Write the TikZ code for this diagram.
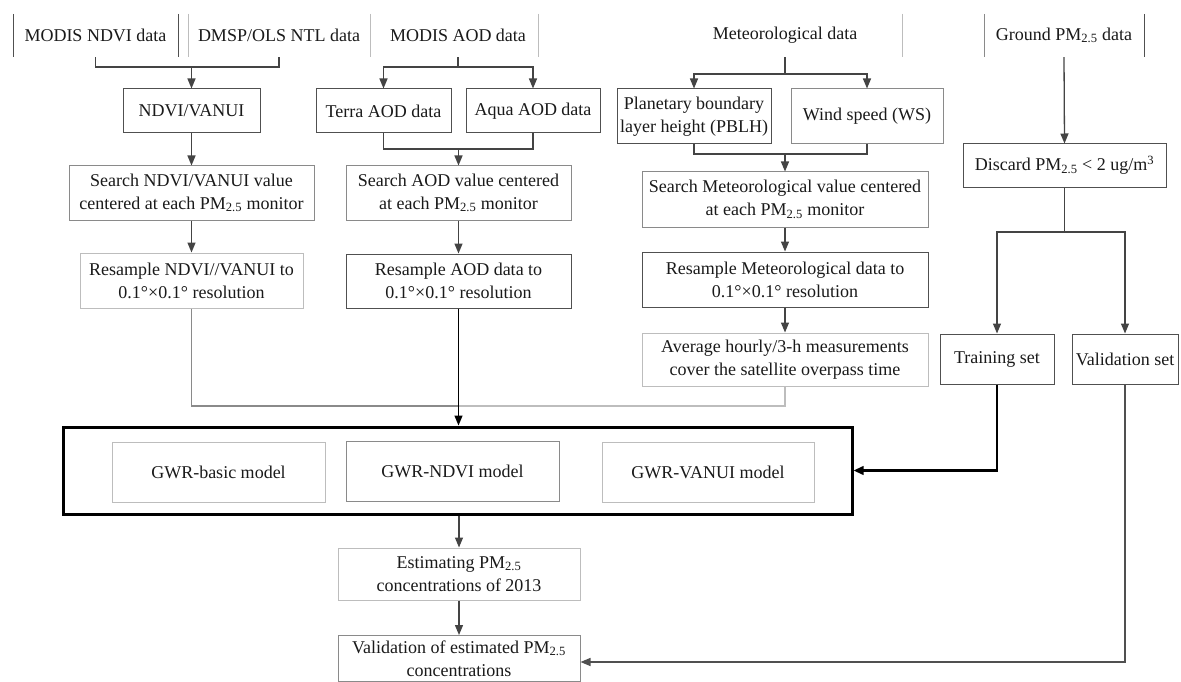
\documentclass[tikz,border=0pt]{standalone}
\usepackage{fontspec}
\setmainfont{Liberation Serif}
\usetikzlibrary{arrows.meta}
\definecolor{lnk}{HTML}{444444}
\definecolor{bdark}{HTML}{505050}
\definecolor{bmid}{HTML}{8A8A8A}
\definecolor{blight}{HTML}{BDBDBD}
\definecolor{txt}{HTML}{1A1A1A}
\tikzset{
  base/.style={inner sep=0pt, align=center, text=txt,
    font=\fontsize{18}{23}\selectfont},
  lbl/.style={base},
  boxd/.style={base, draw=bdark, line width=1pt},
  boxm/.style={base, draw=bmid, line width=1pt},
  boxl/.style={base, draw=blight, line width=1pt},
  thickbox/.style={draw=black, line width=3pt, inner sep=0pt},
  lnkline/.style={draw=lnk, line width=1.3pt},
  arr/.style={lnkline, -{Triangle[length=10pt,width=8pt]}},
  sep/.style={line width=1pt},
  wh/.style 2 args={minimum width=#1pt, minimum height=#2pt},
}
\begin{document}
\begin{tikzpicture}[x=1pt,y=-1pt]
\useasboundingbox[fill=white] (0,0) rectangle (1181,682);

% top row labels
\node[lbl, wh={165}{43}] (t1) at (95.5,35.5) {MODIS NDVI data};
\node[lbl, wh={182}{43}] (t2) at (279,35.5) {DMSP/OLS NTL data};
\node[lbl, wh={160}{43}] (t3) at (458,35.5) {MODIS AOD data};
\node[lbl, wh={200}{43}] (t4) at (785,35.5) {Meteorological data};
\node[lbl, wh={160}{43}] (t5) at (1064,35.5) {Ground PM\textsubscript{2.5} data};

% separators
\draw[sep, bdark] (13,14) -- (13,57);
\draw[sep, bdark] (178,14) -- (178,57);
\draw[sep, blight] (188,14) -- (188,57);
\draw[sep, blight] (370,14) -- (370,57);
\draw[sep, blight] (538,14) -- (538,57);
\draw[sep, blight] (902,14) -- (902,57);
\draw[sep, bmid] (984,14) -- (984,57);
\draw[sep, bdark] (1144,14) -- (1144,57);

% second row
\node[boxd, wh={137}{44}] (ndvi) at (191.5,111) {NDVI/VANUI};
\node[boxd, wh={135}{44}] (terra) at (383.5,111) {Terra AOD data};
\node[boxd, wh={134}{44}] (aqua) at (533,111) {Aqua AOD data};
\node[boxd, wh={154}{55}] (pblh) at (694,116.5) {Planetary boundary\\layer height (PBLH)};
\node[boxm, wh={152}{55}] (ws) at (867,116.5) {Wind speed (WS)};
\node[boxd, wh={203}{43}] (discard) at (1064.5,165.5) {Discard PM\textsubscript{2.5} {<} 2 ug/m\textsuperscript{3}};

% search / resample
\node[boxm, wh={245}{54}] (sndvi) at (191.5,193) {Search NDVI/VANUI value\\centered at each PM\textsubscript{2.5} monitor};
\node[boxl, wh={223}{55}] (rndvi) at (191.5,280.5) {Resample NDVI//VANUI to\\0.1°×0.1° resolution};
\node[boxm, wh={225}{54}] (saod) at (458.5,193) {Search AOD value centered\\at each PM\textsubscript{2.5} monitor};
\node[boxd, wh={225}{54}] (raod) at (458.5,281) {Resample AOD data to\\0.1°×0.1° resolution};
\node[boxm, wh={286}{55}] (smet) at (785,199.5) {Search Meteorological value centered\\at each PM\textsubscript{2.5} monitor};
\node[boxd, wh={286}{55}] (rmet) at (785,279.5) {Resample Meteorological data to\\0.1°×0.1° resolution};
\node[boxl, wh={286}{53}] (avg) at (785,359.5) {Average hourly/3-h measurements\\cover the satellite overpass time};
\node[boxd, wh={114}{50}] (train) at (997,359) {Training set};
\node[boxd, wh={106}{50}] (valset) at (1125,359) {Validation set};

% models
\node[thickbox, wh={789}{87}] (thick) at (457.5,470.5) {};
\node[boxl, wh={213}{60}] (gb) at (218.5,472) {GWR-basic model};
\node[boxm, wh={213}{60}] (gn) at (452.5,471) {GWR-NDVI model};
\node[boxl, wh={212}{60}] (gv) at (708,472) {GWR-VANUI model};

% outputs
\node[boxl, wh={242}{52}] (est) at (459,574) {Estimating PM\textsubscript{2.5}\\concentrations of 2013};
\node[boxm, wh={242}{46}] (vest) at (459,658.5) {Validation of estimated PM\textsubscript{2.5}\\concentrations};

% junctions
\coordinate (j1) at (191.5,67);
\coordinate (j2) at (458,67);
\coordinate (j3) at (458.5,149);
\coordinate (j4) at (785,74);
\coordinate (j5) at (785,154);
\coordinate (j6) at (1064.5,232);
\coordinate (j7) at (191.5,406);
\coordinate (j8) at (785,406);

% connectors
\draw[lnkline] (t1.south) |- (j1) -| (t2.south);
\draw[arr] (j1) -- (ndvi.north);
\draw[lnkline] (t3.south) -- (j2);
\draw[arr] (j2) -| (terra.north);
\draw[arr] (j2) -| (aqua.north);
\draw[lnkline] (terra.south) |- (j3) -| (aqua.south);
\draw[arr] (j3) -- (saod.north);
\draw[lnkline] (t4.south) -- (j4);
\draw[arr] (j4) -| (pblh.north);
\draw[arr] (j4) -| (ws.north);
\draw[lnkline] (pblh.south) |- (j5) -| (ws.south);
\draw[arr] (j5) -- (smet.north);
\draw[arr] (t5.south) -- (discard.north);

\draw[arr] (ndvi.south) -- (sndvi.north);
\draw[arr] (sndvi.south) -- (rndvi.north);
\draw[arr] (saod.south) -- (raod.north);
\draw[arr] (smet.south) -- (rmet.north);
\draw[arr] (rmet.south) -- (avg.north);

\draw[lnkline] (discard.south) -- (j6);
\draw[arr] (j6) -| (train.north);
\draw[arr] (j6) -| (valset.north);

\draw[draw=bmid, line width=1.2pt] (rndvi.south) -- (j7) -- (raod.south |- j7);
\draw[draw=blight, line width=1.2pt] (raod.south |- j7) -- (j8) -- (avg.south);
\draw[draw=black, line width=1.3pt, -{Triangle[length=10pt,width=8pt]}] (raod.south) -- (raod.south |- thick.north);

\draw[draw=black, line width=2.2pt, -{Triangle[length=10pt,width=8.5pt]}] (train.south) |- (thick.east);
\draw[draw=bdark, line width=1.3pt, -{Triangle[length=10pt,width=8pt]}] (valset.south) |- ([yshift=-3.5pt]vest.east);

\draw[arr] (thick.south -| est.north) -- (est.north);
\draw[arr] (est.south) -- (vest.north);
\end{tikzpicture}
\end{document}
